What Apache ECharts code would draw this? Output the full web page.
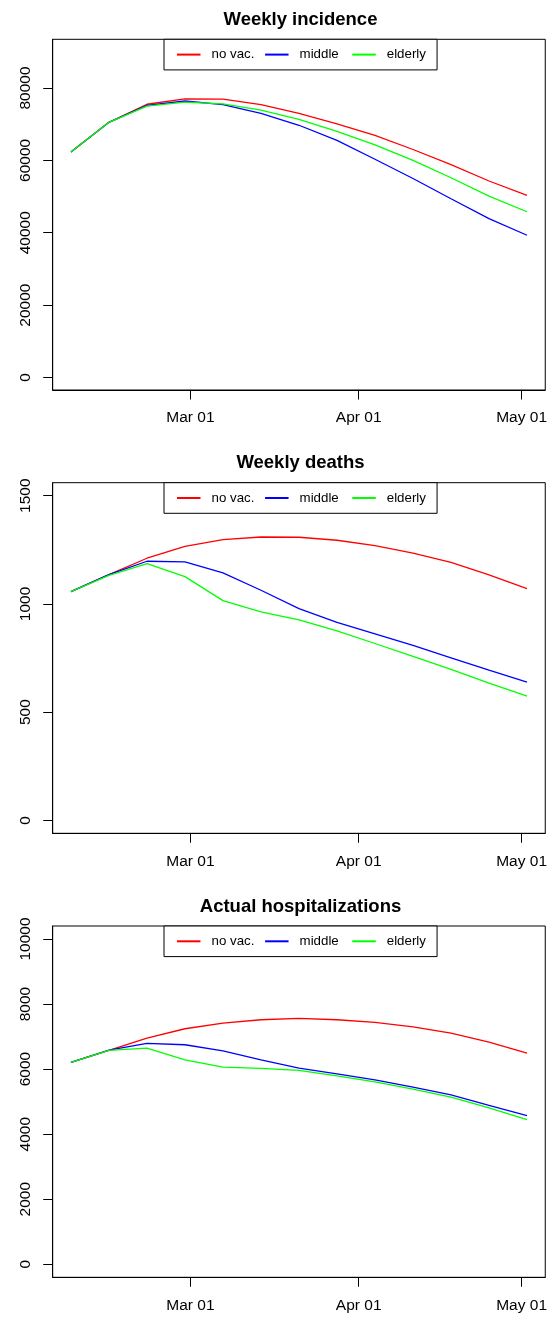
<!DOCTYPE html>
<html>
<head>
<meta charset="utf-8">
<script src="https://cdn.jsdelivr.net/npm/echarts@6/dist/echarts.min.js"></script>
<style>
html,body{margin:0;padding:0;background:#fff;}
#chart{width:550px;height:1317px;}
</style>
</head>
<body>
<div id="chart"></div>
<script>
// ---- data ----
const dates = ['2021-02-07','2021-02-14','2021-02-21','2021-02-28','2021-03-07','2021-03-14','2021-03-21','2021-03-28','2021-04-04','2021-04-11','2021-04-18','2021-04-25','2021-05-02'];
const seriesNames = ['no vac.', 'middle', 'elderly'];
const xTickDates = ['2021-03-01','2021-04-01','2021-05-01'];

const incNoVac   = [62300, 70500, 75500, 77000, 76900, 75400, 73000, 70100, 66900, 63000, 58800, 54300, 50300];
const incMiddle  = [62300, 70500, 75200, 76400, 75400, 73000, 69700, 65500, 60300, 55000, 49400, 43900, 39300];
const incElderly = [62300, 70500, 75000, 76100, 75600, 73900, 71300, 68000, 64300, 60000, 55200, 50100, 45800];
const incTicks = [0, 20000, 40000, 60000, 80000];

const deaNoVac   = [1057, 1135, 1211, 1266, 1297, 1309, 1308, 1294, 1269, 1235, 1192, 1134, 1071];
const deaMiddle  = [1057, 1135, 1197, 1194, 1143, 1063, 978, 915, 862, 808, 751, 694, 638];
const deaElderly = [1057, 1132, 1186, 1126, 1015, 963, 926, 875, 817, 758, 697, 634, 574];
const deaTicks = [0, 500, 1000, 1500];

const hosNoVac   = [6205, 6574, 6954, 7241, 7415, 7518, 7559, 7518, 7436, 7302, 7108, 6831, 6492];
const hosMiddle  = [6205, 6584, 6790, 6749, 6564, 6287, 6031, 5856, 5672, 5446, 5210, 4885, 4574];
const hosElderly = [6205, 6574, 6646, 6287, 6061, 6020, 5959, 5795, 5610, 5384, 5138, 4810, 4451];
const hosTicks = [0, 2000, 4000, 6000, 8000, 10000];

const titles = ['Weekly incidence', 'Weekly deaths', 'Actual hospitalizations'];
const colors = ['#ff0000', '#0000ff', '#00ff00'];

// ---- helpers ----
const FONT = 'Liberation Sans, Arial, Helvetica, sans-serif';
const ts = s => { const p = s.split('-').map(Number); return Date.UTC(p[0], p[1]-1, p[2]); };
const xs = dates.map(ts);
const span = xs[xs.length-1] - xs[0];
const xMin = xs[0] - 0.04*span, xMax = xs[xs.length-1] + 0.04*span;
const MONTHS = ['Jan','Feb','Mar','Apr','May','Jun','Jul','Aug','Sep','Oct','Nov','Dec'];
const fmtDate = v => { const d = new Date(v); const dd = d.getUTCDate(); return MONTHS[d.getUTCMonth()] + ' ' + (dd < 10 ? '0' + dd : dd); };

const panels = [
  {top: 39.3, height: 350.7, min: -3450, max: 93450, ticks: incTicks, data: [incNoVac, incMiddle, incElderly]},
  {top: 482.7, height: 350.6, min: -60, max: 1560, ticks: deaTicks, data: [deaNoVac, deaMiddle, deaElderly]},
  {top: 926, height: 351.3, min: -400, max: 10400, ticks: hosTicks, data: [hosNoVac, hosMiddle, hosElderly]}
];

const option = {
  animation: false,
  backgroundColor: '#fff',
  title: [], grid: [], xAxis: [], yAxis: [], legend: [], series: []
};

panels.forEach((p, i) => {
  option.title.push({
    text: titles[i], left: 300.5, top: p.top - 29.5, textAlign: 'center', padding: 0,
    textStyle: {fontFamily: FONT, fontSize: 18.5, fontWeight: 'bold', color: '#000', lineHeight: 20}
  });
  option.grid.push({
    left: 52.7, right: 1.7, top: p.top, height: p.height,
    show: true, borderColor: '#000', borderWidth: 1, backgroundColor: 'transparent'
  });
  option.xAxis.push({
    type: 'value', gridIndex: i, min: xMin, max: xMax,
    splitLine: {show: false},
    axisLine: {show: true, onZero: false, lineStyle: {color: '#000', width: 1}},
    axisTick: {show: true, inside: false, length: 9.5, lineStyle: {color: '#000', width: 1}, customValues: xTickDates.map(ts)},
    axisLabel: {show: true, margin: 20, fontFamily: FONT, fontSize: 15.5, color: '#000', formatter: fmtDate, customValues: xTickDates.map(ts)}
  });
  option.yAxis.push({
    type: 'value', gridIndex: i, min: p.min, max: p.max,
    splitLine: {show: false},
    axisLine: {show: true, onZero: false, lineStyle: {color: '#000', width: 1}},
    axisTick: {show: true, inside: false, length: 9.5, lineStyle: {color: '#000', width: 1}, customValues: p.ticks},
    axisLabel: {show: true, rotate: 90, margin: 19, fontFamily: FONT, fontSize: 15.5, color: '#000', formatter: v => String(v), customValues: p.ticks}
  });
  option.legend.push({
    left: 164, top: p.top, orient: 'horizontal', selectedMode: false,
    data: seriesNames,
    itemWidth: 23.5, itemHeight: 14, itemGap: 9.7,
    padding: [8.3, 8.3, 8.3, 12],
    borderColor: '#000', borderWidth: 1, backgroundColor: '#fff',
    itemStyle: {opacity: 0, borderWidth: 0},
    textStyle: {fontFamily: FONT, fontSize: 13.3, color: '#000', width: 42, lineHeight: 14, padding: [0, 0, 0, 6]}
  });
  seriesNames.forEach((name, k) => {
    option.series.push({
      type: 'line', name: name, xAxisIndex: i, yAxisIndex: i,
      data: xs.map((x, j) => [x, p.data[k][j]]),
      symbol: 'none', showSymbol: false,
      lineStyle: {color: colors[k], width: 1.3},
      itemStyle: {color: colors[k]},
      emphasis: {disabled: true}
    });
  });
});

const chart = echarts.init(document.getElementById('chart'), null, {renderer: 'canvas'});
chart.setOption(option);
</script>
</body>
</html>
